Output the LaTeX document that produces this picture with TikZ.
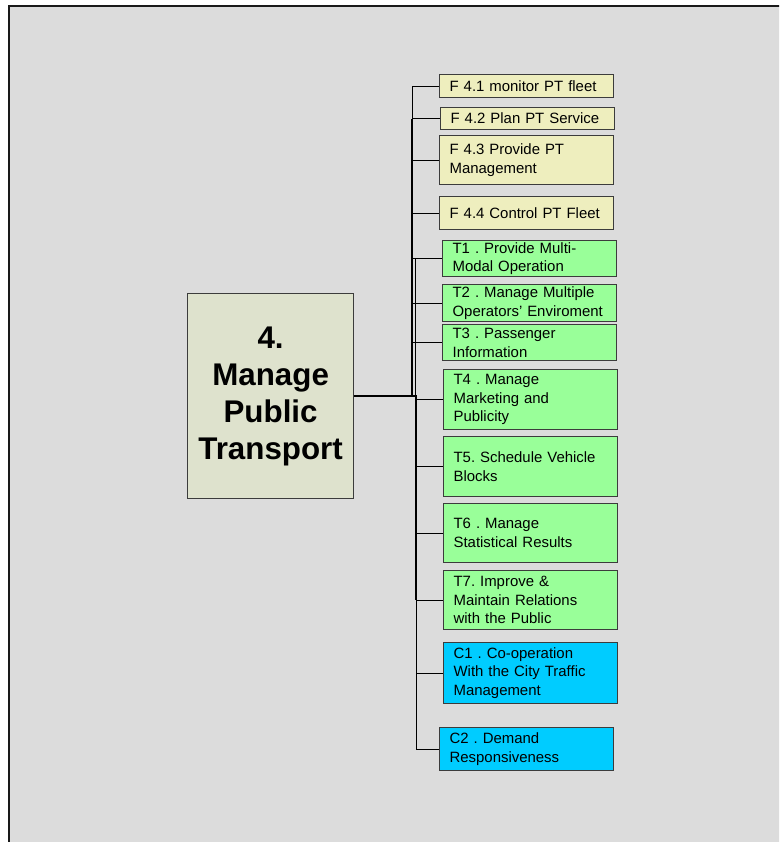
\documentclass[tikz,border=0pt]{standalone}
\usepackage{fontspec}
\setmainfont{Liberation Sans}
\usepackage{tikz}

\definecolor{panelgrey}{RGB}{220,220,220}
\definecolor{mainfill}{RGB}{222,226,205}
\definecolor{funcfill}{RGB}{238,238,190}
\definecolor{taskfill}{RGB}{153,255,153}
\definecolor{coopfill}{RGB}{0,204,255}
\definecolor{boxline}{RGB}{60,60,60}

\frenchspacing
\hyphenpenalty=10000

\begin{document}
\begin{tikzpicture}[x=0.75pt,y=0.75pt,yscale=-1,xscale=1,
  box/.style={draw=boxline,line width=0.9pt,anchor=north west,inner xsep=7.5pt,inner ysep=1pt,
    text width=115.5pt,align=left,font=\fontsize{11.2}{13.9}\selectfont},
  funcbox/.style={box,fill=funcfill},
  taskbox/.style={box,fill=taskfill},
  coopbox/.style={box,fill=coopfill},
  mainbox/.style={draw=boxline,line width=0.9pt,fill=mainfill,anchor=north west,inner sep=2pt,
    minimum width=124.5pt,minimum height=153.75pt,text width=120pt,align=center,
    font=\fontsize{23.5}{27.75}\selectfont\bfseries},
  branch/.style={draw=black,line width=0.75pt},
  trunk/.style={draw=black,line width=1.5pt}]
\path[use as bounding box] (0,0) rectangle (779,842);
\clip (0,0) rectangle (779,842);

%Shape: Frame
\draw [line width=1.5pt,draw=black!90,fill=panelgrey] (9,6.3) rectangle (830,890);

%Shape: Rectangle - main function
\node [mainbox] (main) at (187,293) {4.\\Manage\\Public\\Transport};

%Shape: Rectangle - functions
\node [funcbox,minimum height=17.25pt] (f41) at (439,74) {F 4.1 monitor PT fleet};
\node [funcbox,minimum height=16.5pt] (f42) at (440,107) {F 4.2 Plan PT Service};
\node [funcbox,minimum height=36.75pt] (f43) at (439,135) {F 4.3 Provide PT\\Management};
\node [funcbox,minimum height=24.75pt] (f44) at (439,196) {F 4.4 Control PT Fleet};

%Shape: Rectangle - tasks
\node [taskbox,minimum height=27pt] (t1) at (442,240) {T1 . Provide Multi-\\Modal Operation};
\node [taskbox,minimum height=27.75pt] (t2) at (442,284) {T2 . Manage Multiple\\Operators' Enviroment};
\node [taskbox,minimum height=27pt] (t3) at (442,324) {T3 . Passenger\\Information};
\node [taskbox,minimum height=45pt] (t4) at (443,369) {T4 . Manage\\Marketing and\\Publicity};
\node [taskbox,minimum height=45pt] (t5) at (443,436) {T5. Schedule Vehicle\\Blocks};
\node [taskbox,minimum height=44.25pt] (t6) at (443,503) {T6 . Manage\\Statistical Results};
\node [taskbox,minimum height=44.25pt] (t7) at (443,570) {T7. Improve \&\\Maintain Relations\\with the Public};

%Shape: Rectangle - co-operation
\node [coopbox,minimum height=45.75pt] (c1) at (443,642) {C1 . Co-operation\\With the City Traffic\\Management};
\node [coopbox,minimum height=32.25pt] (c2) at (439,727) {C2 . Demand\\Responsiveness};

%Straight Lines - trunks
\coordinate (upTrunk) at (412,395);
\coordinate (lowTrunk) at (416,395);
\draw [branch] (f41.west -| upTrunk) -- (upTrunk);
\draw [trunk] (f42.west -| upTrunk) -- ([yshift=0.75pt]upTrunk);
\draw [trunk] (main.east) -- ([xshift=0.75pt]main.east -| lowTrunk);
\draw [trunk] (lowTrunk) -- (t7.west -| lowTrunk);
\draw [branch] (lowTrunk) -- (c2.west -| lowTrunk);
\draw [branch] (t1.west -| 415,0) -- (415,395);

%Straight Lines - branches
\foreach \b in {f41,f42,f43,f44}
  \draw [branch] (\b.west -| upTrunk) -- (\b.west);
\foreach \b in {t1,t2,t3}
  \draw [branch] (\b.west -| upTrunk) -- (\b.west);
\foreach \b in {t4,t5,t6,t7,c1,c2}
  \draw [branch] (\b.west -| lowTrunk) -- (\b.west);

\end{tikzpicture}
\end{document}
